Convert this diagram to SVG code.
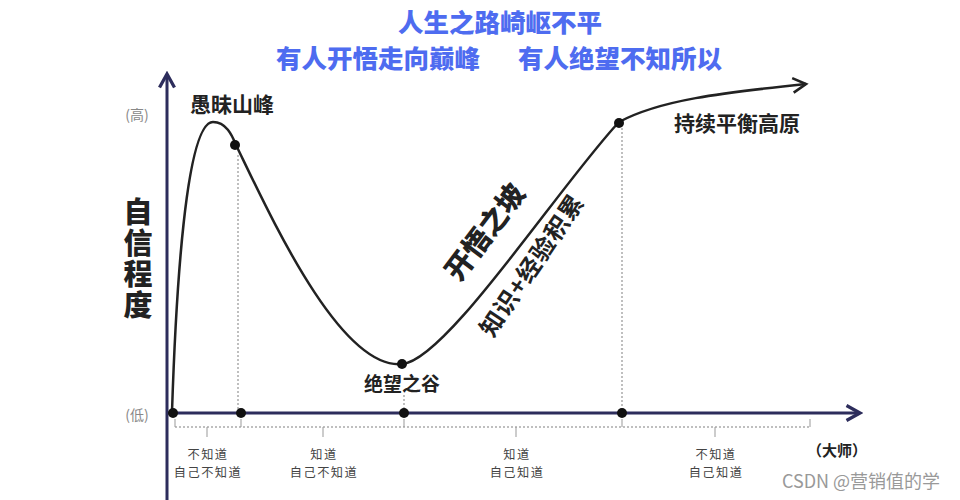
<svg xmlns="http://www.w3.org/2000/svg" width="960" height="500" viewBox="0 0 960 500">
<style>
text{font-family:"Noto Sans CJK SC","Noto Sans",sans-serif}
.title{font-size:25.5px;font-weight:900;fill:#4e6cf0;text-anchor:middle}
.lbl{font-size:21px;font-weight:700;fill:#222;text-anchor:middle}
.axl{font-size:14px;fill:#888;text-anchor:middle}
.small{font-size:12.2px;fill:#444;text-anchor:middle;letter-spacing:1.5px}
.axis{stroke:#2d2d5c;stroke-width:3;fill:none}
.dot{fill:#111}
.dash{stroke:#aaa;stroke-width:1.5;stroke-dasharray:2 2;fill:none}
.tick{stroke:#999;stroke-width:1;fill:none}
.curve{stroke:#222;stroke-width:2.5;fill:none}
.vert{font-size:29px;font-weight:900;fill:#222;writing-mode:vertical-rl;letter-spacing:2px}
</style>
<defs>
<marker id="ah" viewBox="0 0 12 12" refX="10" refY="6" markerWidth="6" markerHeight="6" orient="auto" markerUnits="strokeWidth">
<path d="M1,1 L10,6 L1,11" fill="none" stroke="#2d2d5c" stroke-width="2.2"/>
</marker>
<marker id="ah2" viewBox="0 0 12 12" refX="10" refY="6" markerWidth="7" markerHeight="7" orient="auto" markerUnits="strokeWidth">
<path d="M1,1 L10,6 L1,11" fill="none" stroke="#222" stroke-width="1.8"/>
</marker>
</defs>
<rect width="960" height="500" fill="#fff"/>
<g id="title">
<text class="title" x="500" y="32">人生之路崎岖不平</text>
<text class="title" x="378" y="68">有人开悟走向巅峰</text>
<text class="title" x="620" y="68">有人绝望不知所以</text>
</g>
<g id="connectors">
<line class="axis" x1="167" y1="500" x2="167" y2="74" marker-end="url(#ah)"/>
<line class="axis" x1="167" y1="413" x2="860" y2="413" marker-end="url(#ah)"/>
<line class="dash" x1="238" y1="155" x2="238" y2="410"/>
<line class="dash" x1="404" y1="395" x2="404" y2="410"/>
<line class="dash" x1="622" y1="128" x2="622" y2="410"/>
<line class="dash" x1="175" y1="427" x2="810" y2="427"/>
<path class="tick" d="M207,427 v10 M323,427 v10 M516,427 v10 M715,427 v10 M175,419 v8 M241,419 v8 M404,419 v8 M622,419 v8 M810,419 v8"/>
<path class="curve" marker-end="url(#ah2)" d="M172,412 C176,290 186,122 213,122 C226,122 232,135 236,145 C270,215 340,370 402,364 C445,362 560,185 619,122 C660,100 720,93 806,84"/>
</g>
<g id="axis-labels">
<text class="axl" x="137" y="120">(高)</text>
<text class="axl" x="137" y="420">(低)</text>
<text class="vert" x="138" y="197">自信程度</text>
</g>
<g id="peak"><circle class="dot" cx="235" cy="145" r="5"/><text class="lbl" x="232" y="112">愚昧山峰</text></g>
<g id="valley"><circle class="dot" cx="402" cy="364" r="5"/><text class="lbl" x="402" y="391" style="font-size:19px">绝望之谷</text></g>
<g id="slope">
<text class="lbl" transform="translate(493,238) rotate(-53)" style="font-size:28px;font-weight:900">开悟之坡</text>
<text class="lbl" transform="translate(539,270) rotate(-56)" style="font-size:24px;letter-spacing:1px">知识+经验积累</text>
</g>
<g id="plateau"><circle class="dot" cx="619" cy="123" r="5"/><text class="lbl" x="737" y="131">持续平衡高原</text></g>
<g id="axis-dots">
<circle class="dot" cx="173" cy="413" r="5"/>
<circle class="dot" cx="241" cy="413" r="5"/>
<circle class="dot" cx="404" cy="413" r="5"/>
<circle class="dot" cx="622" cy="413" r="5"/>
</g>
<g id="stage1"><text class="small"><tspan x="208" y="459">不知道</tspan><tspan x="208" dy="18">自己不知道</tspan></text></g>
<g id="stage2"><text class="small"><tspan x="324" y="459">知道</tspan><tspan x="324" dy="18">自己不知道</tspan></text></g>
<g id="stage3"><text class="small"><tspan x="517" y="459">知道</tspan><tspan x="517" dy="18">自己知道</tspan></text></g>
<g id="stage4"><text class="small"><tspan x="716" y="459">不知道</tspan><tspan x="716" dy="18">自己知道</tspan></text></g>
<g id="master"><text x="837" y="456" style="font-size:15px;font-weight:700;fill:#222;text-anchor:middle">（大师）</text></g>
<text x="861" y="488" style="font-size:18px;fill:#999;text-anchor:middle">CSDN @营销值的学</text>
</svg>
